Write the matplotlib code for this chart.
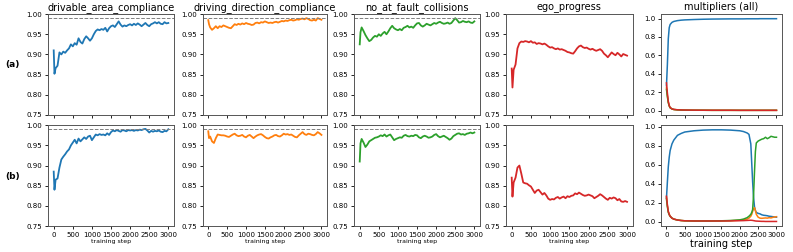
import matplotlib
matplotlib.use("Agg")
import matplotlib.pyplot as plt

# training steps used for the metric curves
steps = [0, 20] + list(range(50, 3001, 50))

drivable_a = [0.910, 0.852, 0.866, 0.872, 0.905, 0.900, 0.907, 0.904, 0.910, 0.915,
              0.925, 0.920, 0.928, 0.924, 0.940, 0.931, 0.927, 0.938, 0.945, 0.940,
              0.934, 0.940, 0.950, 0.958, 0.962, 0.960, 0.963, 0.961, 0.966, 0.957,
              0.965, 0.970, 0.972, 0.968, 0.975, 0.982, 0.974, 0.969, 0.972, 0.970,
              0.973, 0.975, 0.972, 0.976, 0.973, 0.977, 0.974, 0.970, 0.974, 0.978,
              0.973, 0.970, 0.975, 0.977, 0.980, 0.977, 0.980, 0.976, 0.975, 0.980,
              0.977, 0.978]
drivable_b = [0.885, 0.840, 0.865, 0.868, 0.895, 0.915, 0.922, 0.928, 0.935, 0.940,
              0.950, 0.957, 0.964, 0.955, 0.967, 0.960, 0.965, 0.970, 0.966, 0.972,
              0.974, 0.963, 0.970, 0.977, 0.975, 0.978, 0.976, 0.977, 0.975, 0.980,
              0.976, 0.983, 0.987, 0.985, 0.988, 0.986, 0.984, 0.988, 0.987, 0.985,
              0.988, 0.987, 0.988, 0.986, 0.988, 0.987, 0.989, 0.988, 0.990, 0.991,
              0.987, 0.982, 0.986, 0.984, 0.986, 0.985, 0.987, 0.984, 0.983, 0.986,
              0.985, 0.990]
direction_a = [0.985, 0.975, 0.967, 0.961, 0.965, 0.970, 0.965, 0.970, 0.968, 0.972,
               0.970, 0.968, 0.966, 0.965, 0.970, 0.975, 0.973, 0.976, 0.974, 0.977,
               0.975, 0.978, 0.976, 0.975, 0.973, 0.974, 0.978, 0.979, 0.977, 0.980,
               0.979, 0.982, 0.980, 0.978, 0.979, 0.978, 0.980, 0.981, 0.979, 0.981,
               0.983, 0.982, 0.984, 0.983, 0.985, 0.986, 0.984, 0.985, 0.987, 0.986,
               0.988, 0.989, 0.987, 0.990, 0.988, 0.985, 0.984, 0.986, 0.984, 0.990,
               0.988, 0.986]
direction_b = [0.985, 0.968, 0.972, 0.960, 0.956, 0.968, 0.977, 0.976, 0.975, 0.975,
               0.974, 0.972, 0.971, 0.974, 0.977, 0.979, 0.975, 0.973, 0.974, 0.976,
               0.972, 0.970, 0.974, 0.976, 0.972, 0.968, 0.972, 0.975, 0.977, 0.978,
               0.975, 0.971, 0.968, 0.967, 0.970, 0.972, 0.975, 0.976, 0.973, 0.972,
               0.975, 0.979, 0.977, 0.978, 0.976, 0.977, 0.974, 0.971, 0.970, 0.975,
               0.979, 0.983, 0.978, 0.976, 0.979, 0.978, 0.976, 0.975, 0.978, 0.983,
               0.980, 0.976]
collisions_a = [0.925, 0.955, 0.967, 0.958, 0.948, 0.940, 0.933, 0.936, 0.942, 0.946,
                0.944, 0.950, 0.946, 0.952, 0.956, 0.950, 0.957, 0.965, 0.971, 0.965,
                0.962, 0.960, 0.963, 0.960, 0.966, 0.968, 0.971, 0.967, 0.969, 0.966,
                0.972, 0.977, 0.978, 0.972, 0.969, 0.972, 0.976, 0.974, 0.972, 0.975,
                0.978, 0.976, 0.979, 0.981, 0.978, 0.976, 0.977, 0.979, 0.976, 0.978,
                0.984, 0.990, 0.985, 0.979, 0.980, 0.983, 0.981, 0.980, 0.982, 0.979,
                0.978, 0.982]
collisions_b = [0.910, 0.955, 0.966, 0.957, 0.946, 0.952, 0.960, 0.963, 0.966, 0.969,
                0.970, 0.972, 0.975, 0.973, 0.977, 0.972, 0.975, 0.977, 0.970, 0.963,
                0.966, 0.968, 0.970, 0.969, 0.974, 0.976, 0.973, 0.972, 0.974, 0.973,
                0.976, 0.975, 0.970, 0.968, 0.972, 0.974, 0.972, 0.969, 0.970, 0.972,
                0.976, 0.978, 0.973, 0.970, 0.972, 0.974, 0.971, 0.968, 0.964, 0.967,
                0.973, 0.976, 0.979, 0.980, 0.977, 0.978, 0.976, 0.979, 0.980, 0.982,
                0.980, 0.982]
ego_a = [0.865, 0.818, 0.862, 0.875, 0.915, 0.928, 0.932, 0.931, 0.933, 0.932,
         0.930, 0.933, 0.929, 0.930, 0.926, 0.928, 0.927, 0.925, 0.927, 0.924,
         0.920, 0.917, 0.918, 0.915, 0.913, 0.915, 0.912, 0.913, 0.911, 0.909,
         0.906, 0.905, 0.903, 0.902, 0.908, 0.915, 0.920, 0.922, 0.918, 0.916,
         0.917, 0.914, 0.912, 0.914, 0.911, 0.909, 0.911, 0.913, 0.909, 0.902,
         0.898, 0.893, 0.899, 0.905, 0.901, 0.898, 0.904, 0.900, 0.895, 0.901,
         0.899, 0.897]
ego_b = [0.870, 0.823, 0.858, 0.870, 0.895, 0.900, 0.880, 0.858, 0.856, 0.855,
         0.851, 0.848, 0.840, 0.832, 0.838, 0.840, 0.834, 0.828, 0.832, 0.826,
         0.818, 0.815, 0.817, 0.816, 0.820, 0.822, 0.818, 0.821, 0.823, 0.819,
         0.824, 0.822, 0.825, 0.826, 0.831, 0.829, 0.833, 0.830, 0.827, 0.825,
         0.826, 0.828, 0.826, 0.824, 0.819, 0.822, 0.825, 0.829, 0.826, 0.822,
         0.818, 0.815, 0.820, 0.818, 0.821, 0.819, 0.814, 0.817, 0.811, 0.810,
         0.812, 0.810]

# lagrange multipliers (4 constraints), sampled more densely around the switch
mult_steps = [0, 25, 50, 75, 100, 150, 200, 300, 400, 500,
              750, 1000, 1250, 1500, 1750, 2000, 2100, 2200, 2250, 2300,
              2325, 2350, 2375, 2400, 2425, 2450, 2500, 2550, 2600, 2650,
              2700, 2750, 2800, 2850, 2900, 2950, 3000]
mult_blue_a = [0.27, 0.50, 0.78, 0.90, 0.935, 0.958, 0.968, 0.977, 0.982, 0.985,
               0.989, 0.992, 0.994, 0.995, 0.996, 0.996, 0.996, 0.997, 0.997, 0.997,
               0.997, 0.997, 0.997, 0.997, 0.997, 0.997, 0.997, 0.998, 0.998, 0.998,
               0.998, 0.998, 0.998, 0.998, 0.998, 0.998, 0.998]
mult_orange_a = [0.25, 0.16, 0.09, 0.05, 0.03, 0.017, 0.011, 0.007, 0.005, 0.004,
                 0.003, 0.003, 0.002, 0.002, 0.002, 0.002, 0.002, 0.002, 0.002, 0.002,
                 0.002, 0.002, 0.002, 0.002, 0.002, 0.002, 0.002, 0.002, 0.002, 0.002,
                 0.002, 0.002, 0.002, 0.002, 0.002, 0.002, 0.002]
mult_green_a = [0.23, 0.15, 0.085, 0.05, 0.03, 0.017, 0.011, 0.007, 0.005, 0.004,
                0.003, 0.003, 0.002, 0.002, 0.002, 0.002, 0.002, 0.002, 0.002, 0.002,
                0.002, 0.002, 0.002, 0.002, 0.002, 0.002, 0.002, 0.002, 0.002, 0.002,
                0.002, 0.002, 0.002, 0.002, 0.002, 0.002, 0.002]
mult_red_a = [0.30, 0.19, 0.10, 0.055, 0.033, 0.018, 0.012, 0.008, 0.006, 0.005,
              0.004, 0.003, 0.003, 0.003, 0.003, 0.002, 0.002, 0.002, 0.002, 0.002,
              0.002, 0.002, 0.002, 0.002, 0.002, 0.002, 0.002, 0.002, 0.002, 0.002,
              0.002, 0.002, 0.002, 0.002, 0.002, 0.002, 0.002]
mult_blue_b = [0.25, 0.42, 0.58, 0.68, 0.75, 0.82, 0.86, 0.91, 0.93, 0.945,
               0.958, 0.965, 0.968, 0.968, 0.965, 0.958, 0.95, 0.935, 0.92, 0.82,
               0.62, 0.42, 0.26, 0.16, 0.12, 0.10, 0.09, 0.085, 0.075, 0.07,
               0.068, 0.065, 0.06, 0.058, 0.055, 0.052, 0.05]
mult_orange_b = [0.26, 0.17, 0.11, 0.08, 0.06, 0.04, 0.03, 0.02, 0.015, 0.012,
                 0.01, 0.01, 0.01, 0.011, 0.013, 0.018, 0.022, 0.03, 0.04, 0.06,
                 0.08, 0.11, 0.14, 0.15, 0.12, 0.08, 0.05, 0.04, 0.038, 0.04,
                 0.042, 0.04, 0.045, 0.042, 0.048, 0.052, 0.055]
mult_green_b = [0.24, 0.16, 0.10, 0.075, 0.06, 0.04, 0.03, 0.02, 0.015, 0.012,
                0.01, 0.01, 0.01, 0.012, 0.015, 0.022, 0.03, 0.045, 0.06, 0.08,
                0.10, 0.13, 0.28, 0.52, 0.74, 0.83, 0.85, 0.86, 0.87, 0.875,
                0.89, 0.875, 0.885, 0.90, 0.895, 0.89, 0.89]
mult_red_b = [0.27, 0.18, 0.11, 0.08, 0.06, 0.04, 0.03, 0.02, 0.015, 0.012,
              0.01, 0.01, 0.01, 0.01, 0.011, 0.013, 0.014, 0.016, 0.017, 0.018,
              0.017, 0.016, 0.014, 0.012, 0.01, 0.009, 0.008, 0.007, 0.006, 0.006,
              0.005, 0.005, 0.005, 0.005, 0.005, 0.005, 0.005]

titles = ["drivable_area_compliance", "driving_direction_compliance",
          "no_at_fault_collisions", "ego_progress", "multipliers (all)"]
row_labels = ["(a)", "(b)"]
metric_colors = ["C0", "C1", "C2", "C3"]
threshold = 0.99

metrics = [
    [drivable_a, direction_a, collisions_a, ego_a],
    [drivable_b, direction_b, collisions_b, ego_b],
]
multipliers = [
    [mult_blue_a, mult_orange_a, mult_green_a, mult_red_a],
    [mult_blue_b, mult_orange_b, mult_green_b, mult_red_b],
]

fig = plt.figure(figsize=(7.93, 2.52), dpi=100)

lefts = [0.0605, 0.2555, 0.4464, 0.638, 0.8335]
widths = [0.159, 0.157, 0.159, 0.160, 0.1526]
bottoms = [0.544, 0.103]
height = 0.40

for r in range(2):
    for c in range(5):
        ax = fig.add_axes([lefts[c], bottoms[r], widths[c], height])
        if c < 4:
            ax.plot(steps, metrics[r][c], color=metric_colors[c], lw=1.3)
            if c < 3:
                ax.axhline(threshold, color="gray", ls="--", lw=0.7)
            ax.set_ylim(0.75, 1.0)
            ax.set_yticks([0.75, 0.80, 0.85, 0.90, 0.95, 1.00])
            ax.set_yticklabels(["0.75", "0.80", "0.85", "0.90", "0.95", "1.00"])
        else:
            for series, col in zip(multipliers[r], metric_colors):
                ax.plot(mult_steps, series, color=col, lw=1.1)
            ax.set_yticks([0.0, 0.2, 0.4, 0.6, 0.8, 1.0])
        ax.set_xticks(range(0, 3001, 500))
        ax.tick_params(labelsize=5, length=2.5, width=0.6, pad=1.5)
        for sp in ax.spines.values():
            sp.set_linewidth(0.7)
            sp.set_color("#555555")
        if r == 0:
            ax.set_title(titles[c], fontsize=7, pad=3)
            ax.set_xticklabels([])
        else:
            if c < 4:
                ax.set_xlabel("training step", fontsize=4.5, labelpad=1)
            else:
                ax.set_xlabel("training step", fontsize=7, labelpad=1)

fig.text(0.016, 0.745, row_labels[0], fontsize=6.5, fontweight="bold", va="center", ha="center")
fig.text(0.016, 0.298, row_labels[1], fontsize=6.5, fontweight="bold", va="center", ha="center")

fig.savefig("out.png", dpi=100)
plt.close(fig)
